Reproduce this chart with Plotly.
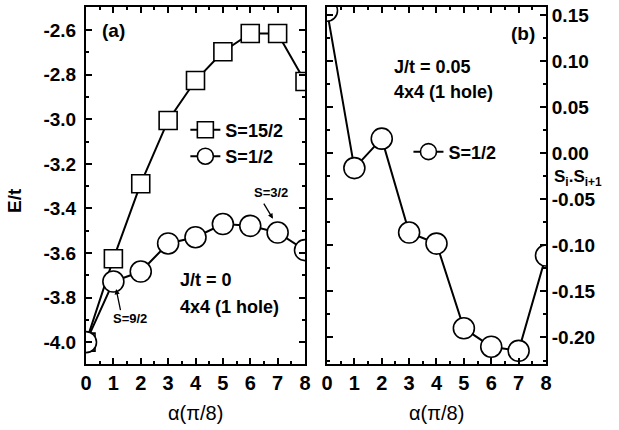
import plotly.graph_objects as go

alpha = [0, 1, 2, 3, 4, 5, 6, 7, 8]
E_s15_2 = [-4.0, -3.626, -3.289, -3.005, -2.826, -2.697, -2.615, -2.615, -2.83]
E_s1_2 = [-4.0, -3.728, -3.683, -3.557, -3.529, -3.47, -3.478, -3.508, -3.587]
SS_s1_2 = [0.155, -0.016, 0.016, -0.086, -0.098, -0.190, -0.210, -0.2145, -0.111]

x_ticks = [0, 1, 2, 3, 4, 5, 6, 7, 8]
y1_ticks = [-4.0, -3.8, -3.6, -3.4, -3.2, -3.0, -2.8, -2.6]
y2_ticks = [-0.20, -0.15, -0.10, -0.05, 0.00, 0.05, 0.10, 0.15]

FONT = "Arial, Liberation Sans, sans-serif"
BOLD = dict(family=FONT, color="black", weight="bold")


def btext(vals, fmt):
    return ["<b>" + format(v, fmt).replace("\u2212", "-") + "</b>" for v in vals]


fig = go.Figure()
fig.add_trace(go.Scatter(
    x=alpha, y=E_s15_2, mode="lines+markers", name="S=15/2",
    line=dict(color="black", width=2),
    marker=dict(symbol="square", size=18, color="white", line=dict(color="black", width=1.6)),
    xaxis="x", yaxis="y", legend="legend"))
fig.add_trace(go.Scatter(
    x=alpha, y=E_s1_2, mode="lines+markers", name="S=1/2",
    line=dict(color="black", width=2),
    marker=dict(symbol="circle", size=21, color="white", line=dict(color="black", width=1.6)),
    xaxis="x", yaxis="y", legend="legend"))
fig.add_trace(go.Scatter(
    x=alpha, y=SS_s1_2, mode="lines+markers", name="S=1/2",
    line=dict(color="black", width=2),
    marker=dict(symbol="circle", size=21, color="white", line=dict(color="black", width=1.6)),
    xaxis="x2", yaxis="y2", legend="legend2"))

axis_common = dict(showline=True, linecolor="black", linewidth=2, mirror="ticks",
                   ticks="inside", ticklen=6, tickwidth=1.5, tickcolor="black",
                   showgrid=False, zeroline=False)

xcommon = dict(axis_common, range=[0, 8], tickmode="array", tickvals=x_ticks,
               ticktext=btext(x_ticks, "d"),
               tickfont=dict(BOLD, size=20),
               minor=dict(ticks="inside", ticklen=3, tickwidth=1.5, dtick=0.5, tick0=0,
                          tickcolor="black"))

fig.update_layout(
    width=619, height=430,
    margin=dict(l=86, r=73, t=5, b=66),
    paper_bgcolor="white", plot_bgcolor="white",
    showlegend=True,
    xaxis=dict(xcommon, domain=[0, 0.4761], anchor="y"),
    xaxis2=dict(xcommon, domain=[0.5239, 1], anchor="y2"),
    yaxis=dict(axis_common, range=[-4.098, -2.496], tickmode="array", tickvals=y1_ticks,
               ticktext=btext(y1_ticks, ".1f"), tickfont=dict(BOLD, size=19), anchor="x",
               ticklabelstandoff=4,
               minor=dict(ticks="inside", ticklen=3, tickwidth=1.5, dtick=0.1, tick0=-4.0,
                          tickcolor="black")),
    yaxis2=dict(axis_common, range=[-0.2288, 0.159], tickmode="array", tickvals=y2_ticks,
                ticktext=btext(y2_ticks, ".2f"), tickfont=dict(BOLD, size=19), anchor="x2",
                side="right", ticklabelstandoff=0,
                minor=dict(ticks="inside", ticklen=3, tickwidth=1.5, dtick=0.025, tick0=0,
                           tickcolor="black")),
    legend=dict(x=0.216, y=0.707, xanchor="left", yanchor="top", bgcolor="rgba(0,0,0,0)",
                font=dict(BOLD, size=18), tracegroupgap=0, itemsizing="trace"),
    legend2=dict(x=0.701, y=0.594, xanchor="left", yanchor="middle", bgcolor="rgba(0,0,0,0)",
                 font=dict(BOLD, size=18), itemsizing="trace"),
)

ann = []
ann.append(dict(text="(a)", x=0.99, y=-2.6, xref="x", yref="y", showarrow=False,
                font=dict(BOLD, size=19)))
ann.append(dict(text="J/t = 0", x=3.36, y=-3.723, xref="x", yref="y", xanchor="left",
                showarrow=False, font=dict(BOLD, size=18)))
ann.append(dict(text="4x4 (1 hole)", x=3.36, y=-3.84, xref="x", yref="y", xanchor="left",
                showarrow=False, font=dict(BOLD, size=18)))
ann.append(dict(text="S=9/2", x=1.6, y=-3.893, xref="x", yref="y",
                showarrow=False, font=dict(BOLD, size=13)))
ann.append(dict(text=" ", x=1.1, y=-3.762, xref="x", yref="y", showarrow=True,
                ax=5, ay=24, arrowhead=2, arrowsize=0.8, arrowwidth=1.3, arrowcolor="black",
                font=dict(size=2)))
ann.append(dict(text="S=3/2", x=6.75, y=-3.33, xref="x", yref="y",
                showarrow=False, font=dict(BOLD, size=13)))
ann.append(dict(text=" ", x=6.83, y=-3.446, xref="x", yref="y", showarrow=True,
                ax=-11, ay=-18, arrowhead=2, arrowsize=0.8, arrowwidth=1.3, arrowcolor="black",
                font=dict(size=2)))
ann.append(dict(text="(b)", x=7.16, y=0.13, xref="x2", yref="y2", showarrow=False,
                font=dict(BOLD, size=19)))
ann.append(dict(text="J/t = 0.05", x=2.37, y=0.094, xref="x2", yref="y2", xanchor="left",
                showarrow=False, font=dict(BOLD, size=18)))
ann.append(dict(text="4x4 (1 hole)", x=2.37, y=0.067, xref="x2", yref="y2", xanchor="left",
                showarrow=False, font=dict(BOLD, size=18)))
ann.append(dict(text="E/t", x=-0.154, y=0.457, xref="paper", yref="paper", textangle=-90,
                xanchor="center", yanchor="middle",
                showarrow=False, font=dict(BOLD, size=19)))
ann.append(dict(text="S<sub>i</sub>.S<sub>i+1</sub>", x=1.014, y=0.522, xref="paper", yref="paper",
                xanchor="left", yanchor="middle", showarrow=False, font=dict(BOLD, size=17)))
ann.append(dict(text="α(π/8)", x=0.237, y=-0.136, xref="paper", yref="paper",
                xanchor="center", yanchor="middle",
                showarrow=False, font=dict(family=FONT, color="black", size=20)))
ann.append(dict(text="α(π/8)", x=0.761, y=-0.136, xref="paper", yref="paper",
                xanchor="center", yanchor="middle",
                showarrow=False, font=dict(family=FONT, color="black", size=20)))
fig.update_layout(annotations=ann)

fig.write_html("out.html")
